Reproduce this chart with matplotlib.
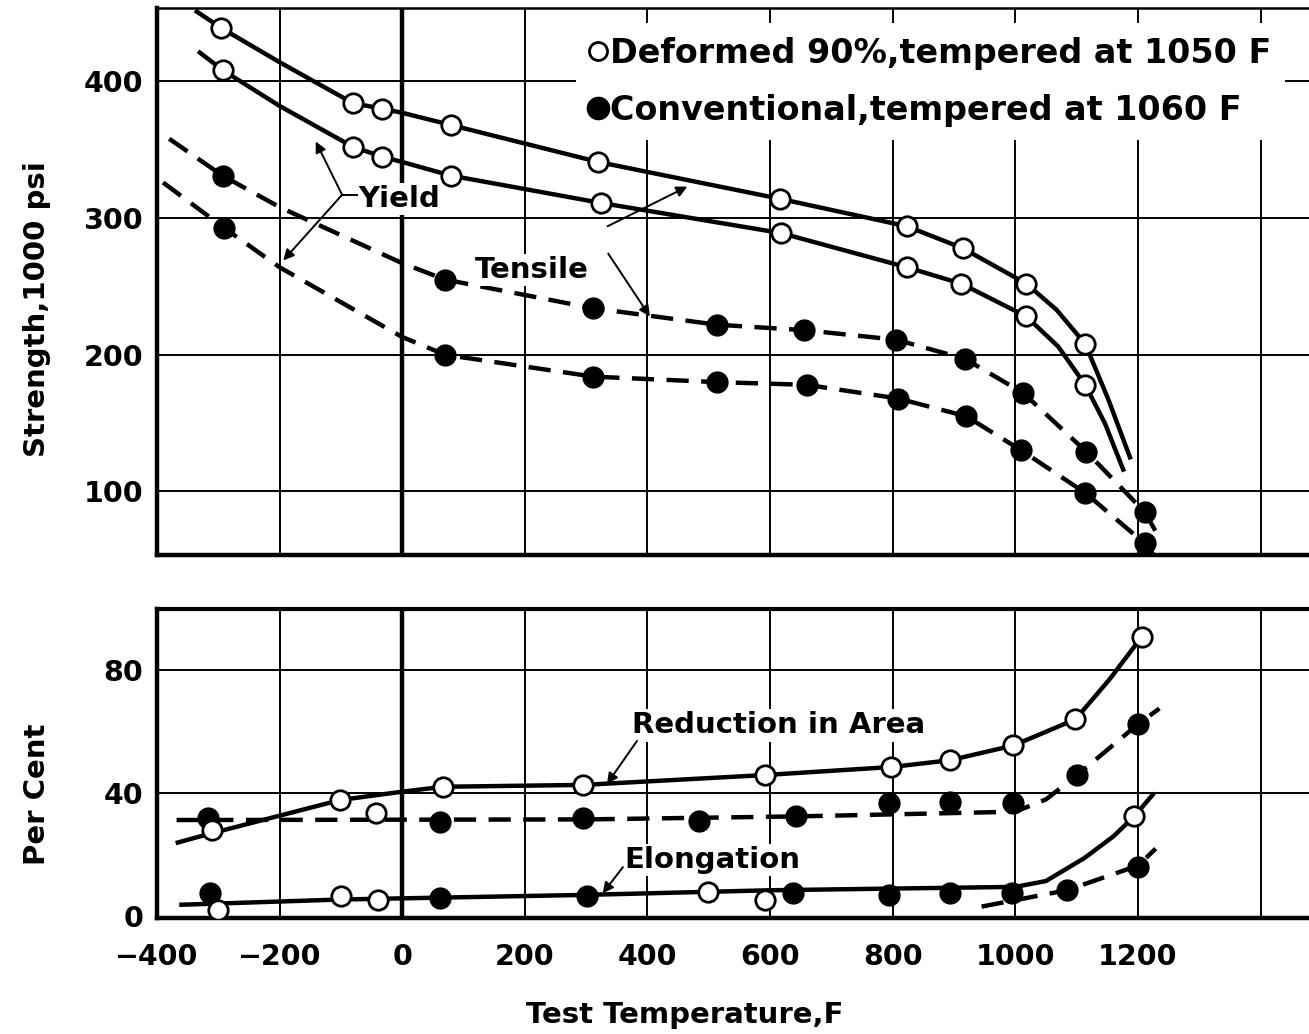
import matplotlib
matplotlib.use("Agg")
import matplotlib.pyplot as plt
from matplotlib.lines import Line2D

plt.rcParams['font.family'] = ['DejaVu Sans']
plt.rcParams['font.weight'] = 'bold'
plt.rcParams['axes.labelweight'] = 'bold'

# ---------------- data ----------------
# Top panel: strength, 1000 psi
def_tens_T = [-295, -80, -33, 80, 320, 617, 823, 914, 1018, 1114]
def_tens_S = [439, 384, 380, 368, 341, 314, 294, 278, 252, 208]
def_tens_curve_T = [-335, -295, -200, -80, -33, 0, 80, 320, 617, 823, 914, 1018, 1067, 1114, 1152, 1187]
def_tens_curve_S = [451, 439, 414, 384, 380, 377, 368, 341, 314, 294, 278, 252, 233, 208, 167, 125]

def_yield_T = [-292, -80, -33, 80, 325, 618, 823, 912, 1018, 1114]
def_yield_S = [408, 352, 345, 331, 311, 289, 264, 252, 228, 178]
def_yield_curve_T = [-330, -292, -200, -80, -33, 0, 80, 325, 618, 823, 912, 1018, 1070, 1114, 1146, 1176]
def_yield_curve_S = [421, 408, 382, 352, 345, 341, 331, 311, 289, 264, 252, 228, 206, 178, 150, 116]

conv_tens_T = [-293, 70, 312, 513, 656, 806, 918, 1013, 1116, 1211]
conv_tens_S = [331, 255, 234, 222, 218, 211, 197, 172, 129, 85]
conv_tens_curve_T = [-380, -293, -200, 0, 70, 312, 513, 656, 806, 918, 1013, 1116, 1211, 1230]
conv_tens_curve_S = [358, 331, 308, 267, 255, 234, 222, 218, 211, 197, 172, 129, 85, 70]

conv_yield_T = [-291, 70, 312, 513, 660, 809, 920, 1010, 1114, 1211]
conv_yield_S = [293, 200, 184, 180, 178, 168, 155, 130, 99, 62]
conv_yield_curve_T = [-390, -291, -200, 0, 70, 312, 513, 660, 809, 920, 1010, 1114, 1211, 1235]
conv_yield_curve_S = [326, 293, 264, 213, 200, 184, 180, 178, 168, 155, 130, 99, 62, 48]

# Bottom panel: per cent
def_ra_T = [-311, -101, -42, 67, 295, 591, 797, 893, 997, 1098, 1206]
def_ra_P = [28, 37.8, 33.5, 42.1, 42.7, 45.9, 48.5, 50.7, 55.5, 64, 90.7]
def_ra_curve_T = [-366, -311, -101, 0, 67, 295, 591, 797, 893, 997, 1098, 1153, 1206]
def_ra_curve_P = [24, 27, 37.8, 40.5, 42.1, 42.7, 45.9, 48.5, 50.7, 55.5, 64, 76.8, 90.7]

conv_ra_T = [-317, 62, 295, 484, 643, 794, 893, 997, 1101, 1200]
conv_ra_P = [32, 30.8, 31.9, 30.9, 32.5, 36.8, 37.3, 36.8, 45.9, 62.4]
conv_ra_curve_T = [-368, 300, 650, 1000, 1050, 1101, 1200, 1235]
conv_ra_curve_P = [31.3, 31.5, 32.5, 34, 38, 45.9, 62.4, 67.5]

def_el_T = [-300, -99, -40, 498, 591, 1194]
def_el_P = [2.2, 6.5, 5.4, 8, 5.3, 32.5]
def_el_curve_T = [-360, -100, 300, 600, 1000, 1050, 1113, 1160, 1194, 1224]
def_el_curve_P = [3.8, 5.5, 7, 8.5, 9.6, 11.5, 19, 26, 32.5, 39.5]

conv_el_T = [-313, 62, 301, 638, 794, 893, 994, 1084, 1200]
conv_el_P = [7.7, 5.9, 6.5, 7.5, 6.9, 7.5, 7.5, 8.5, 16]
conv_el_curve_T = [945, 1084, 1200, 1229]
conv_el_curve_P = [3.2, 8.5, 16.5, 22]

x_ticks = [-400, -200, 0, 200, 400, 600, 800, 1000, 1200]
x_tick_labels = ['\u2212400', '\u2212200', '0', '200', '400', '600', '800', '1000', '1200']
x_grid = [-200, 200, 400, 600, 800, 1000, 1200, 1400]
top_y_ticks = [100, 200, 300, 400]
bot_y_ticks = [0, 40, 80]
bot_y_grid = [40, 80]

legend_labels = ['Deformed 90%,tempered at 1050 F', 'Conventional,tempered at 1060 F']

# ---------------- figure ----------------
fig = plt.figure(figsize=(13.09, 10.34), dpi=100)
ax1 = fig.add_axes([0.1199, 0.4632, 0.8801, 0.5290])
ax2 = fig.add_axes([0.1199, 0.1122, 0.8801, 0.2988])

XLIM = (-400, 1479)
LW = 3.2
DASH = (5.0, 2.8)
open_kw = dict(marker='o', ms=14, mfc='white', mec='black', mew=2.0, ls='none', zorder=5)
fill_kw = dict(marker='o', ms=15, mfc='black', mec='black', mew=1.0, ls='none', zorder=5)

for ax in (ax1, ax2):
    ax.set_xlim(*XLIM)
    for g in x_grid:
        ax.axvline(g, color='black', lw=1.4, zorder=1)
    ax.axvline(0, color='black', lw=3.2, zorder=1)
    ax.tick_params(length=0, labelsize=20.5)
    ax.tick_params(axis='y', pad=10)
    ax.tick_params(axis='x', pad=18)
    ax.spines['right'].set_visible(False)
    ax.spines['left'].set_linewidth(3.2)
    ax.spines['bottom'].set_linewidth(3.2)
    ax.spines['top'].set_linewidth(1.8)
    ax.set_xticks(x_ticks)

# ----- top panel -----
ax1.set_ylim(53.5, 453.6)
ax1.set_yticks(top_y_ticks)
ax1.set_xticklabels([])
for g in top_y_ticks:
    ax1.axhline(g, color='black', lw=1.4, zorder=1)

ax1.plot(def_tens_curve_T, def_tens_curve_S, color='black', lw=LW, zorder=3)
ax1.plot(def_yield_curve_T, def_yield_curve_S, color='black', lw=LW, zorder=3)
ax1.plot(conv_tens_curve_T, conv_tens_curve_S, color='black', lw=LW, ls=(0, DASH), zorder=3)
ax1.plot(conv_yield_curve_T, conv_yield_curve_S, color='black', lw=LW, ls=(0, DASH), zorder=3)
ax1.plot(def_tens_T, def_tens_S, **open_kw)
ax1.plot(def_yield_T, def_yield_S, **open_kw)
ax1.plot(conv_tens_T, conv_tens_S, **fill_kw)
ax1.plot(conv_yield_T, conv_yield_S, **fill_kw)

ax1.set_ylabel('Strength,1000 psi', fontsize=21)

handles = [Line2D([], [], marker='o', ms=13, mfc='white', mec='black', mew=2.0, ls='none'),
           Line2D([], [], marker='o', ms=16, mfc='black', mec='black', ls='none')]
leg = ax1.legend(handles, legend_labels, loc='upper left', bbox_to_anchor=(0.364, 0.972),
                 fontsize=24, frameon=True, facecolor='white', edgecolor='none', framealpha=1,
                 handlelength=0.5, handletextpad=0.12, labelspacing=0.72, borderpad=0.4,
                 borderaxespad=0, fancybox=False)
leg.set_zorder(6)

txt_bbox = dict(facecolor='white', edgecolor='none', pad=1.5)
ax1.text(-72, 314, 'Yield', fontsize=21, ha='left', va='center', bbox=txt_bbox, zorder=6)
ax1.plot([-98, -74], [317, 317], color='black', lw=1.4, zorder=6)
arrow_kw = dict(arrowstyle='-|>', lw=1.4, color='black', mutation_scale=16, shrinkA=0, shrinkB=0)
ax1.annotate('', xy=(-141, 356), xytext=(-98, 317), arrowprops=arrow_kw, zorder=6)
ax1.annotate('', xy=(-194, 269), xytext=(-98, 317), arrowprops=arrow_kw, zorder=6)

ax1.text(119, 262, 'Tensile', fontsize=21, ha='left', va='center', bbox=txt_bbox, zorder=6)
ax1.annotate('', xy=(465, 323), xytext=(335, 294), arrowprops=arrow_kw, zorder=6)
ax1.annotate('', xy=(404, 228), xytext=(336, 274), arrowprops=arrow_kw, zorder=6)

# ----- bottom panel -----
ax2.set_ylim(-0.5, 99.8)
ax2.set_yticks(bot_y_ticks)
ax2.set_xticklabels(x_tick_labels)
ax2.spines['top'].set_linewidth(3.0)
for g in bot_y_grid:
    ax2.axhline(g, color='black', lw=1.4, zorder=1)

ax2.plot(def_ra_curve_T, def_ra_curve_P, color='black', lw=LW, zorder=3)
ax2.plot(conv_ra_curve_T, conv_ra_curve_P, color='black', lw=LW, ls=(0, DASH), zorder=3)
ax2.plot(def_el_curve_T, def_el_curve_P, color='black', lw=LW, zorder=3)
ax2.plot(conv_el_curve_T, conv_el_curve_P, color='black', lw=LW, ls=(0, DASH), zorder=3)
ax2.plot(conv_ra_T, conv_ra_P, **fill_kw)
ax2.plot(def_ra_T, def_ra_P, **open_kw)
ax2.plot(conv_el_T, conv_el_P, **fill_kw)
ax2.plot(def_el_T, def_el_P, **open_kw)

ax2.text(375, 62, 'Reduction in Area', fontsize=21, ha='left', va='center', bbox=txt_bbox, zorder=6)
ax2.annotate('', xy=(334, 43), xytext=(383, 57), arrowprops=arrow_kw, zorder=6)
ax2.text(363, 18.4, 'Elongation', fontsize=21, ha='left', va='center', bbox=txt_bbox, zorder=6)
ax2.annotate('', xy=(327, 7.5), xytext=(360, 16), arrowprops=arrow_kw, zorder=6)

ax2.set_ylabel('Per Cent', fontsize=21)
ax2.set_xlabel('Test Temperature,F', fontsize=21)
ax1.yaxis.set_label_coords(-0.092, 0.45)
ax2.yaxis.set_label_coords(-0.092, 0.4)
ax2.xaxis.set_label_coords(0.458, -0.27)

fig.savefig('out.png', dpi=100)
